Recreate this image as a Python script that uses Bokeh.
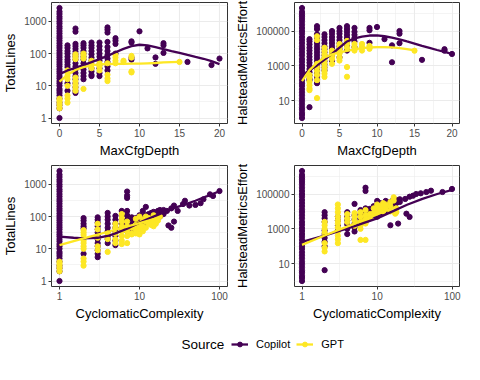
import math
from bokeh.plotting import figure
from bokeh.models import FixedTicker, NumeralTickFormatter, Range1d, Legend, LegendItem, Label
from bokeh.layouts import column, row
from bokeh.embed import file_html
from bokeh.resources import INLINE

COPILOT = "#440154"
GPT = "#FDE725"
FONT = "Liberation Sans"

# ---------------- data ----------------
# functions with MaxCfgDepth 0 / CyclomaticComplexity 1
copilot_flat_lines = [1, 2, 2.5, 3, 4, 5, 6, 7, 8, 10, 12, 14, 17, 20, 24, 28, 33, 40, 47, 55, 65, 77,
                      90, 105, 125, 150, 175, 210, 250, 300, 350, 420, 500, 600, 700, 850, 1000, 1200,
                      1400, 1700, 2000, 2600]
gpt_flat_lines = [2, 2.5, 3, 3.5, 4]
copilot_flat_effort = [1, 1.5, 2, 3, 4, 6, 9, 13, 20, 30, 45, 70, 100, 150, 230, 350, 500, 750, 1100,
                       1700, 2500, 4000, 6000, 9000, 13000, 20000, 30000, 45000, 70000, 100000, 150000,
                       230000, 350000, 500000, 700000, 900000, 1250000, 2100000]
gpt_flat_effort = []

# MaxCfgDepth -> TotalLines
copilot_depth_lines = {
    0: copilot_flat_lines,
    1: [180, 150, 120, 100, 80, 65, 55, 45, 38, 12, 7],
    2: [600, 480, 200, 170, 140, 115, 95, 80, 65, 50, 40, 32, 25, 20, 16, 12, 9, 7, 6],
    3: [210, 180, 150, 120, 100, 80, 65, 50, 40, 32, 25, 20, 16],
    4: [220, 180, 150, 120, 95, 75, 60, 45, 35, 28, 22, 20],
    5: [220, 170, 130, 100, 80, 60, 45, 35, 25, 20],
    6: [650, 550, 450, 230, 160, 120, 90, 70, 55, 40, 30],
    7: [300, 250, 200, 100],
    9: [240, 220, 75, 65],
    10: [490], 11: [145], 12: [76, 48], 13: [210, 180, 105], 16: [55], 19: [44], 20: [70],
}
gpt_depth_lines = {
    0: gpt_flat_lines,
    1: [30, 25, 20, 16, 10, 5, 4, 3],
    2: [95, 80, 67, 18, 14, 11, 9, 7],
    3: [100, 85, 70, 8],
    4: [60, 45, 35],
    5: [50, 40, 30],
    6: [50, 22, 17, 14],
    7: [90, 75, 60, 50],
    8: [60, 55],
    9: [85, 75, 28, 26],
    15: [55],
}
depth_copilot_lines_smooth_x = list(range(0, 21))
depth_copilot_lines_smooth_y = [23, 30, 36, 44, 54, 67, 85, 110, 140, 170, 188, 180, 158, 138, 120,
                                105, 91, 79, 69, 58, 47]
depth_gpt_lines_smooth_x = list(range(0, 16))
depth_gpt_lines_smooth_y = [13.5, 22, 31, 38, 43, 46, 47, 48, 48, 49, 49, 50, 51, 53, 54, 55]

# MaxCfgDepth -> HalsteadMetricsEffort
copilot_depth_effort = {
    0: copilot_flat_effort,
    1: [34000, 25000, 17000, 11000, 7500, 5000, 3300, 2200, 1500, 1000, 650, 430, 280, 180, 150, 4.2],
    2: [190000, 130000, 65000, 45000, 30000, 20000, 13000, 9000, 6000, 4000, 2700, 1800, 1200, 800,
        550, 370, 250, 160, 100],
    3: [65000, 45000, 30000, 20000, 13000, 9000, 6000, 4000, 2700, 1800, 1200, 800, 550],
    4: [100000, 70000, 45000, 30000, 20000, 13000, 9000, 6000, 4000, 2000],
    5: [150000, 100000, 70000, 45000, 30000, 20000, 13000, 9000, 6000, 3100],
    6: [190000, 130000, 90000, 60000, 40000, 25000, 15000, 7500],
    7: [150000, 90000, 60000, 40000, 25000, 12000],
    9: [150000, 110000, 21000],
    10: [170000], 11: [34000], 12: [15000, 1600], 13: [100000, 70000, 20000], 16: [2200],
    19: [9000, 7400], 20: [4800],
}
gpt_depth_effort = {
    0: gpt_flat_effort,
    1: [300, 200, 120, 76, 50, 40],
    2: [50000, 30000, 1300, 800, 500, 300, 150, 14],
    3: [11000, 7000, 4500, 3000, 2000, 1300, 800, 500, 350, 230],
    4: [7500, 5000, 3500, 2500, 1300],
    5: [18000, 12000, 8000, 5000, 3000, 2000],
    6: [27000, 18000, 11000, 850, 235],
    7: [18000, 12000, 7500],
    8: [18000, 12000, 7500],
    9: [14000, 11000, 9500],
    15: [7400],
}
depth_copilot_effort_smooth_x = list(range(0, 21))
depth_copilot_effort_smooth_y = [280, 560, 1050, 2300, 4800, 11000, 25000, 38000, 48000, 55000, 56000,
                                 50000, 42000, 33000, 25000, 19000, 14000, 10700, 8100, 6300, 4800]
depth_gpt_effort_smooth_x = list(range(0, 16))
depth_gpt_effort_smooth_y = [130, 560, 1500, 3000, 4500, 5900, 7200, 8900, 10500, 11500, 12000,
                             12000, 11500, 10500, 9100, 7600]

# CyclomaticComplexity -> TotalLines
copilot_cc_lines = {
    1: copilot_flat_lines,
    2: [90, 75, 60, 50, 43, 7],
    3: [95, 80, 65, 50, 40, 32, 25, 20, 15, 12, 9, 7, 5.5],
    4: [130, 100, 80, 60, 45, 35, 25, 20, 15],
    5: [105, 80, 60, 45, 35, 25, 18, 13],
    6: [150, 110, 80, 60, 45],
    7: [600, 450, 380, 150, 110, 80, 55, 35],
    8: [95, 70, 50, 35],
    9: [90, 60, 45],
    10: [110, 85, 70, 55, 40],
    11: [150, 100, 70],
    12: [200, 110, 80, 60],
    13: [120, 90, 65],
    14: [130, 100, 75],
    15: [140, 100],
    16: [120, 90],
    17: [150, 110],
    18: [160, 130, 100],
    19: [140],
    20: [160, 120],
    22: [150], 23: [53], 25: [45, 180], 27: [70, 220], 30: [150], 35: [245], 37: [310],
    42: [220], 50: [230], 58: [260], 63: [345], 76: [490], 83: [436], 100: [620],
}
gpt_cc_lines = {
    1: gpt_flat_lines,
    2: [38, 32, 27, 22, 18, 15, 12, 10, 5, 4, 3],
    3: [60, 40, 22, 12, 9],
    4: [30, 20, 8],
    5: [60, 45, 30, 20, 15],
    6: [120, 90, 70, 50, 35, 25, 18, 14],
    7: [70, 50, 35, 25, 15],
    8: [45, 30, 28],
    9: [85, 55, 40, 30],
    10: [100, 60, 45, 35, 28],
    11: [80, 50, 35],
    12: [100, 70, 45],
    13: [90, 60],
    14: [80, 55],
    15: [110, 70, 50],
    16: [90, 60],
    17: [75],
    18: [100],
}
cc_copilot_lines_smooth_x = [1, 1.5, 2, 3, 4, 5, 7, 10, 15, 20, 30, 50, 70, 100]
cc_copilot_lines_smooth_y = [24, 22, 21, 22, 25, 30, 42, 65, 100, 135, 200, 310, 430, 610]
cc_gpt_lines_smooth_x = [1, 2, 5, 10, 18]
cc_gpt_lines_smooth_y = [13, 21, 39, 63, 94]

# CyclomaticComplexity -> HalsteadMetricsEffort
copilot_cc_effort = {
    1: copilot_flat_effort,
    2: [9000, 6000, 4000, 2500, 800, 500, 300, 180, 100, 4.2],
    3: [5000, 3000, 1500, 800],
    4: [9000, 5000, 3000, 1800, 1000, 500],
    5: [27000, 6000, 3500, 2000, 1200, 700],
    6: [12000, 7000, 4000, 2500],
    7: [230000, 150000, 15000, 8000, 4000, 2500],
    8: [14000, 8000, 4000],
    9: [20000, 10000, 6000],
    10: [40000, 20000, 12000, 7000, 5000],
    11: [30000, 15000, 8000],
    12: [25000, 15000, 9000],
    13: [40000, 20000, 11000],
    14: [30000, 18000],
    15: [35000, 1600],
    16: [40000, 25000],
    18: [45000, 30000],
    19: [2000],
    20: [50000, 35000],
    23.6: [52000], 24.5: [7400], 27: [4800, 70000], 30: [80000], 33: [100000], 38: [110000],
    45: [130000], 52: [155000], 74: [130000], 99: [195000],
}
gpt_cc_effort = {
    2: [2500, 1600, 1000, 600, 150, 80, 50],
    3: [25000, 15000, 9000, 5000, 3000, 2000, 1200, 700, 400, 250, 150],
    4: [7000, 4000, 2500],
    5: [8000, 5000, 3000, 1500],
    6: [9000, 5000, 2500, 1500, 1000, 230],
    7: [12000, 6000, 3500, 2000, 230],
    8: [7000, 4000],
    9: [15000, 8000],
    10: [25000, 15000, 9000],
    11: [20000, 12000],
    12: [30000, 18000, 10000],
    13: [25000, 15000],
    15: [35000, 20000, 10000],
    16.6: [65000, 42000],
    17.4: [7400],
    18: [15000, 9000],
}
cc_copilot_effort_smooth_x = [1, 2, 3, 5, 10, 16, 25, 40, 63, 100]
cc_copilot_effort_smooth_y = [178, 400, 710, 1410, 3980, 10000, 24000, 52500, 100000, 174000]
cc_gpt_effort_smooth_x = [1, 2, 5, 10, 18]
cc_gpt_effort_smooth_y = [120, 410, 2000, 6800, 19000]

depth_ticks = [0, 5, 10, 15, 20]
depth_minor = [2.5, 7.5, 12.5, 17.5]
cc_ticks = [1, 10, 100]
lines_ticks = [1, 10, 100, 1000]
effort_ticks = [10, 1000, 100000]

sources = ["Copilot", "GPT"]

PT_SIZE = 5.2


# ---------------- helpers ----------------
def flatten(d):
    xs, ys = [], []
    for k, v in d.items():
        xs += [k] * len(v)
        ys += list(v)
    return xs, ys


def expand(vals, log):
    if log:
        lo, hi = math.log10(min(vals)), math.log10(max(vals))
        pad = 0.05 * (hi - lo)
        return 10 ** (lo - pad), 10 ** (hi + pad)
    lo, hi = min(vals), max(vals)
    pad = 0.05 * (hi - lo)
    return lo - pad, hi + pad


def log_minor(ticks, rng):
    lt = [math.log10(t) for t in ticks]
    step = lt[1] - lt[0]
    cands = [lt[0] - step / 2] + [a + step / 2 for a in lt]
    lo, hi = math.log10(rng[0]), math.log10(rng[1])
    return [10 ** c for c in cands if lo <= c <= hi]


def panel(cop, gpt, cop_s, gpt_s, x_log, x_title, y_title, x_ticks, y_ticks, x_minor,
          width, height, left, top, bottom):
    cx, cy = flatten(cop)
    gx, gy = flatten(gpt)
    xr = expand(cx + gx, x_log)
    yr = expand(cy + gy, True)
    p = figure(width=width, height=height, output_backend="svg", toolbar_location=None,
               x_axis_type="log" if x_log else "linear", y_axis_type="log",
               x_range=Range1d(*xr), y_range=Range1d(*yr),
               min_border_left=left, min_border_right=5, min_border_top=top,
               min_border_bottom=bottom)
    p.background_fill_color = "white"
    p.border_fill_color = "white"
    p.outline_line_color = "#333333"
    p.outline_line_width = 1

    xm = log_minor(x_ticks, xr) if x_log else x_minor
    p.xaxis.ticker = FixedTicker(ticks=x_ticks, minor_ticks=xm)
    p.yaxis.ticker = FixedTicker(ticks=y_ticks, minor_ticks=log_minor(y_ticks, yr))
    p.xaxis.formatter = NumeralTickFormatter(format="0")
    p.yaxis.formatter = NumeralTickFormatter(format="0")
    for ax in (p.xaxis, p.yaxis):
        ax.axis_line_color = None
        ax.major_tick_line_color = "#333333"
        ax.major_tick_out = 3
        ax.major_tick_in = 0
        ax.minor_tick_out = 0
        ax.minor_tick_in = 0
        ax.major_label_text_font = FONT
        ax.major_label_text_font_size = "10px"
        ax.major_label_text_color = "#4D4D4D"
        ax.major_label_standoff = 2
        ax.axis_label_text_font = FONT
        ax.axis_label_text_font_size = "13px"
        ax.axis_label_text_font_style = "normal"
        ax.axis_label_text_color = "black"
        ax.axis_label_standoff = 3
    p.xaxis.axis_label = x_title
    p.yaxis.axis_label = y_title
    for g in (p.xgrid, p.ygrid):
        g.grid_line_color = "#EBEBEB"
        g.grid_line_width = 1.1
        g.minor_grid_line_color = "#EBEBEB"
        g.minor_grid_line_width = 0.55

    p.scatter(cx, cy, size=PT_SIZE, color=COPILOT, marker="circle")
    p.scatter(gx, gy, size=PT_SIZE, color=GPT, marker="circle")
    p.line(cop_s[0], cop_s[1], color=COPILOT, line_width=2.3)
    p.line(gpt_s[0], gpt_s[1], color=GPT, line_width=2.3)
    return p


p1 = panel(copilot_depth_lines, gpt_depth_lines,
           (depth_copilot_lines_smooth_x, depth_copilot_lines_smooth_y),
           (depth_gpt_lines_smooth_x, depth_gpt_lines_smooth_y),
           False, "MaxCfgDepth", "TotalLines", depth_ticks, lines_ticks, depth_minor,
           232, 160, 50, 2, 34)
p2 = panel(copilot_depth_effort, gpt_depth_effort,
           (depth_copilot_effort_smooth_x, depth_copilot_effort_smooth_y),
           (depth_gpt_effort_smooth_x, depth_gpt_effort_smooth_y),
           False, "MaxCfgDepth", "HalsteadMetricsEffort", depth_ticks, effort_ticks, depth_minor,
           232, 160, 61, 2, 34)
p3 = panel(copilot_cc_lines, gpt_cc_lines,
           (cc_copilot_lines_smooth_x, cc_copilot_lines_smooth_y),
           (cc_gpt_lines_smooth_x, cc_gpt_lines_smooth_y),
           True, "CyclomaticComplexity", "TotalLines", cc_ticks, lines_ticks, None,
           232, 163, 50, 5, 34)
p4 = panel(copilot_cc_effort, gpt_cc_effort,
           (cc_copilot_effort_smooth_x, cc_copilot_effort_smooth_y),
           (cc_gpt_effort_smooth_x, cc_gpt_effort_smooth_y),
           True, "CyclomaticComplexity", "HalsteadMetricsEffort", cc_ticks, effort_ticks, None,
           232, 163, 61, 5, 34)

# ---------------- legend row ----------------
# key renderers sit outside the visible range; only their legend keys are shown
lg = figure(width=464, height=32, output_backend="svg", toolbar_location=None,
            x_range=Range1d(0, 1), y_range=Range1d(0, 1), min_border=0)
lg.axis.visible = False
lg.grid.visible = False
lg.outline_line_color = None
lg.background_fill_color = "white"
lg.border_fill_color = "white"
items = []
for name, col in zip(sources, [COPILOT, GPT]):
    ln = lg.line([5, 6], [5, 6], color=col, line_width=2.3)
    sc = lg.scatter([5], [5], color=col, size=PT_SIZE, marker="circle")
    items.append(LegendItem(label=name, renderers=[ln, sc]))
legend = Legend(items=items, orientation="horizontal", location=(231, 5), padding=0, margin=0,
                spacing=6, glyph_width=17, glyph_height=12, label_height=12, label_standoff=8,
                border_line_color=None, background_fill_alpha=0,
                label_text_font=FONT, label_text_font_size="11px", label_text_color="black")
lg.add_layout(legend)
lg.add_layout(Label(x=181, y=11, x_units="screen", y_units="screen", text="Source",
                    text_font=FONT, text_font_size="13.5px", text_baseline="middle",
                    text_color="black"))

layout = column(row(p1, p2), row(p3, p4), lg)

open("out.html", "w").write(file_html(layout, INLINE))
